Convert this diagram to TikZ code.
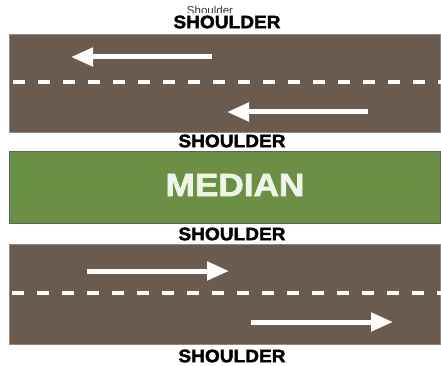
\documentclass[tikz,border=0pt]{standalone}
\usepackage{fontspec}
\setmainfont{Liberation Sans}
\newfontfamily\heavyfont[FakeBold=2]{Liberation Sans Bold}
\usetikzlibrary{arrows.meta,positioning}
\definecolor{asphalt}{HTML}{6A5B4E}
\definecolor{grass}{HTML}{6B8F45}
\definecolor{edgegray}{HTML}{8A8A8A}
\definecolor{grasstext}{HTML}{EEF5E6}
\tikzset{
  roadbox/.style={draw=edgegray, fill=asphalt, line width=0.8pt},
  medianbox/.style={draw=edgegray!70!black, fill=grass, line width=0.8pt},
  lanedash/.style={white, line width=3.5pt, dash pattern=on 12pt off 13pt},
  flowarrow/.style={-{Triangle[length=22pt,width=18pt]}, white, line width=5pt},
  shoulderlabel/.style={font=\fontsize{18}{18}\heavyfont, inner sep=0pt, xscale=1.06},
}

\begin{document}
\begin{tikzpicture}[x=1pt,y=-1pt]
  \clip (0,0) rectangle (441,366);
  \useasboundingbox (0,0) rectangle (441,366);
  \fill[white] (0,0) rectangle (441,366);

  % roads and median
  \draw[roadbox] (9,34) rectangle (440,132);
  \draw[medianbox] (9,151) rectangle (440,223);
  \draw[roadbox] (9,244) rectangle (440,344);

  % lane lines
  \draw[lanedash] (13,82) -- (441,82);
  \draw[lanedash] (12,293) -- (441,293);

  % traffic direction
  \coordinate (a1s) at (212,57);  \coordinate (a1e) at (71,57);
  \coordinate (a2s) at (368,112); \coordinate (a2e) at (227,112);
  \coordinate (a3s) at (87,271);  \coordinate (a3e) at (229,271);
  \coordinate (a4s) at (251,322); \coordinate (a4e) at (393,322);
  \draw[flowarrow] (a1s) -- (a1e);
  \draw[flowarrow] (a2s) -- (a2e);
  \draw[flowarrow] (a3s) -- (a3e);
  \draw[flowarrow] (a4s) -- (a4e);

  % labels
  \node[font=\fontsize{11.5}{11.5}\selectfont, text=black!80, anchor=base] (tiny) at (210,15) {Shoulder};
  \fill[white] (150,12.6) rectangle (300,33);
  \node[shoulderlabel] (s1) at (227,22) {SHOULDER};
  \node[shoulderlabel] (s2) at (232,141) {SHOULDER};
  \node[shoulderlabel] (s3) at (232,234) {SHOULDER};
  \node[shoulderlabel] (s4) at (232,356) {SHOULDER};
  \node[font=\fontsize{32}{32}\heavyfont, text=grasstext, xscale=1.1] (med) at (235,185) {MEDIAN};
\end{tikzpicture}
\end{document}
